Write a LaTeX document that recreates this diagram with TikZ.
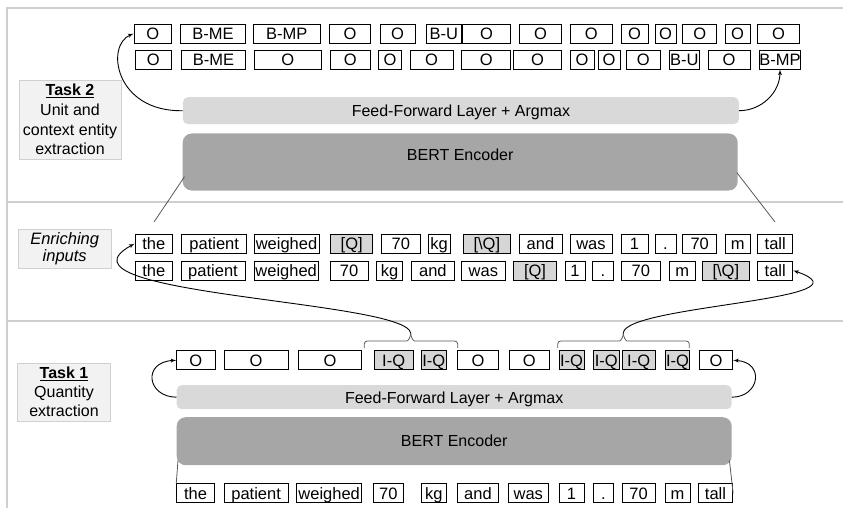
\documentclass[tikz,border=0pt]{standalone}
\usepackage{fontspec}
\setmainfont{Liberation Sans}
\usepackage{xcolor}
\usetikzlibrary{arrows, positioning}

\definecolor{sepgray}{HTML}{CFCFCF}
\definecolor{qgray}{HTML}{D6D6D6}
\definecolor{ffgray}{HTML}{D9D9D9}
\definecolor{bertgray}{HTML}{A6A6A6}
\definecolor{taskfill}{HTML}{F2F2F2}
\definecolor{taskline}{HTML}{D0D0D0}
\definecolor{linegray}{HTML}{595959}

\begin{document}
\begin{tikzpicture}[x=1pt, y=-1pt, font=\fontsize{16}{19}\selectfont]
        \tikzstyle{tok} = [rectangle, draw, line width=0.9pt, inner sep=0pt, minimum height=19pt, text height=12pt, text depth=0pt, font=\fontsize{16.5}{19}\selectfont]
        \tikzstyle{ffl} = [rectangle, rounded corners=5pt, fill=ffgray, inner sep=0pt, text height=12pt, text depth=0pt]
        \tikzstyle{bert} = [rectangle, rounded corners=9pt, fill=bertgray, inner sep=0pt]
        \tikzstyle{task} = [rectangle, draw=taskline, fill=taskfill, line width=0.8pt, align=center, inner sep=0pt]
        \tikzstyle{line} = [draw, -latex', line width=0.9pt]
        \tikzstyle{thinline} = [draw=linegray, line width=0.8pt]
        \tikzstyle{sep} = [draw=sepgray, line width=2pt]

        \useasboundingbox (0,0) rectangle (843,508);
        \path [sep] (6.5,508) -- (6.5,8) -- (843,8);
        \path [sep] (6.5,201.7) -- (843,201.7);
        \path [sep] (6.5,321) -- (843,321);

        \node [task, minimum width=102pt, minimum height=79pt, font=\fontsize{16}{19.8}\selectfont] (task2) at (70,119.5) {\underline{\textbf{Task 2}}\\Unit and\\context entity\\extraction};
        \node [task, minimum width=93pt, minimum height=39pt, font=\fontsize{16.5}{17.5}\selectfont\itshape] (enrich) at (64.7,248.7) {Enriching\\inputs};
        \node [task, minimum width=93pt, minimum height=58pt] (task1) at (64,392) {\underline{\textbf{Task 1}}\\Quantity\\extraction};

        \node [ffl, minimum width=556pt, minimum height=27pt] (ff2) at (460.9,110.7) {Feed-Forward Layer + Argmax};
        \node [bert, minimum width=555pt, minimum height=57pt, text depth=14pt] (bert2) at (460.2,162) {BERT Encoder};
        \node [ffl, minimum width=555pt, minimum height=24pt] (ff1) at (454.2,397.2) {Feed-Forward Layer + Argmax};
        \node [bert, minimum width=555pt, minimum height=48pt] (bert1) at (454.2,441.2) {BERT Encoder};

        \foreach \lbl/\xa/\xb [count=\i] in {O/134/171.7, B-ME/180.7/245.3, B-MP/253.3/320, O/329.3/370.7, O/380/415, B-U/426.7/461, O/462.5/510.7, O/519.3/561.7, O/570/612.7, O/621/648.3, O/655/676, O/682.7/716.7, O/725/750, O/757.7/799.3}
            \node [tok, fill=white, minimum width={\xb-\xa}] (t2a-\i) at ({(\xa+\xb)/2},33.7) {\lbl};
        \foreach \lbl/\xa/\xb [count=\i] in {O/135/171.7, B-ME/181.7/245.3, O/254/321.7, O/330/370.7, O/378.3/401.7, O/410/453.3, O/461.7/510.7, O/513.3/561.7, O/570/594, O/598.3/620, O/626.7/660, B-U/669.3/699.3, O/708.3/750, B-MP/759.3/800.7}
            \node [tok, fill=white, minimum width={\xb-\xa}] (t2b-\i) at ({(\xa+\xb)/2},59.5) {\lbl};

        \foreach \lbl/\xa/\xb/\fc [count=\i] in {the/135/172.7/white, patient/181.7/246.7/white, weighed/254/319/white, {[Q]}/330.7/372.7/qgray, 70/381.7/420/white, kg/428/450/white, {[\textbackslash Q]}/463/510.7/qgray, and/519/562/white, was/570/612/white, 1/621/648/white, ./655/676/white, 70/682.7/716.7/white, m/725.7/750/white, tall/757.7/792.7/white}
            \node [tok, fill=\fc, minimum width={\xb-\xa}] (e1-\i) at ({(\xa+\xb)/2},243.7) {\lbl};
        \foreach \lbl/\xa/\xb/\fc [count=\i] in {the/135/172.7/white, patient/181/245/white, weighed/254/318.3/white, 70/330/368.3/white, kg/376.7/402.7/white, and/411.7/454/white, was/461.7/505/white, {[Q]}/513.3/556.7/qgray, 1/565/585/white, ./592.7/613.3/white, 70/621.7/660/white, m/669.3/695/white, {[\textbackslash Q]}/702.3/749.3/qgray, tall/757.7/792.7/white}
            \node [tok, fill=\fc, minimum width={\xb-\xa}] (e2-\i) at ({(\xa+\xb)/2},270.5) {\lbl};

        \foreach \lbl/\xa/\xb/\fc [count=\i] in {O/176.7/215/white, O/224/288.3/white, O/298.3/361.7/white, I-Q/374/413.3/qgray, I-Q/421/446.7/qgray, O/457.7/498.3/white, O/509.3/549.3/white, I-Q/559/584/qgray, I-Q/593.3/619.3/qgray, I-Q/622.3/655/qgray, I-Q/665.7/689.3/qgray, O/699.3/732.7/white}
            \node [tok, fill=\fc, minimum width={\xb-\xa}] (out1-\i) at ({(\xa+\xb)/2},360.3) {\lbl};
        \foreach \lbl/\xa/\xb [count=\i] in {the/176.7/214.3, patient/224/288.3, weighed/296.7/361.7, 70/373.3/403.3, kg/421/446.7, and/457.7/498.3, was/508.3/548.3, 1/559/584, ./593.3/613.3, 70/622.3/655, m/665/690, tall/698.3/732.7}
            \node [tok, fill=white, minimum width={\xb-\xa}] (in1-\i) at ({(\xa+\xb)/2},493.3) {\lbl};

        \coordinate (br1) at (410.7,333);
        \coordinate (br2) at (623.3,333);
        \path [thinline, rounded corners=3pt] (364.3,348) |- (404,341) to[out=0, in=-90] (br1);
        \path [thinline, rounded corners=3pt] (457.7,348) |- (417.4,341) to[out=180, in=-90] (br1);
        \path [thinline, rounded corners=3pt] (557.7,348) |- (616.6,341) to[out=0, in=-90] (br2);
        \path [thinline, rounded corners=3pt] (689.3,348) |- (630,341) to[out=180, in=-90] (br2);

        \path [thinline] ([shift={(2,-14)}]bert2.south west) -- (154,222);
        \path [thinline] ([shift={(-1,-18)}]bert2.south east) -- (775,222);
        \path [thinline] ([shift={(1.5,-5)}]bert1.south west) -- (in1-1.north west);
        \path [thinline] ([shift={(-2.5,-5)}]bert1.south east) -- (in1-12.east);

        \path [line] (ff2.west) .. controls (115,112) and (105,45) .. (t2a-1.west);
        \path [line] (ff2.east) to[out=0, in=-90] (t2b-14.south);
        \path [line] (br1) .. controls (405,300) and (40,295) .. (e1-1.west);
        \path [line] (br2) .. controls (625,305) and (880,300) .. (e2-14.east);
        \path [line] (ff1.west) .. controls (147,397) and (142,362) .. (out1-1.west);
        \path [line] (ff1.east) .. controls (760,397) and (765,362) .. (out1-12.east);
    \end{tikzpicture}
\end{document}
